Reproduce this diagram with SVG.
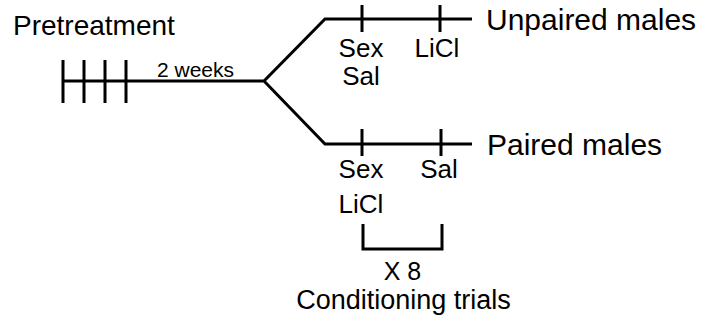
<svg xmlns="http://www.w3.org/2000/svg" width="706" height="322" viewBox="0 0 706 322">
<style>
.ln{fill:none;stroke:#000;stroke-width:3;stroke-linejoin:miter}
text{font-family:"Liberation Sans",Arial,sans-serif;fill:#000}
.big{font-size:30px}
.lab{font-size:26px;text-anchor:middle}
</style>
<rect width="706" height="322" fill="#fff"/>
<g id="connectors">
<path class="ln" d="M63 81 H264 L325 19 H472 M264 81 L325 144 H472"/>
<path class="ln" d="M63 60 V103 M84 60 V103 M105 60 V103 M126 60 V103"/>
<path class="ln" d="M362 5 V32 M440 5 V32"/>
<path class="ln" d="M362 129 V156 M441 129 V156"/>
<path class="ln" d="M363 224 V249 H442 V224"/>
</g>
<g id="pretreatment"><text x="13" y="35" style="font-size:28px">Pretreatment</text></g>
<g id="weeks"><text x="157" y="77" style="font-size:21px">2 weeks</text></g>
<g id="unpaired">
<text class="big" x="486" y="30">Unpaired males</text>
<text class="lab" x="361" y="57">Sex</text>
<text class="lab" x="361" y="85">Sal</text>
<text class="lab" x="437" y="57">LiCl</text>
</g>
<g id="paired">
<text class="big" x="487" y="155">Paired males</text>
<text class="lab" x="361" y="178">Sex</text>
<text class="lab" x="361" y="213">LiCl</text>
<text class="lab" x="439" y="178">Sal</text>
</g>
<g id="trials">
<text class="lab" x="402.5" y="280" style="font-size:25px">X 8</text>
<text class="lab" x="403.5" y="309" style="font-size:27px">Conditioning trials</text>
</g>
</svg>
